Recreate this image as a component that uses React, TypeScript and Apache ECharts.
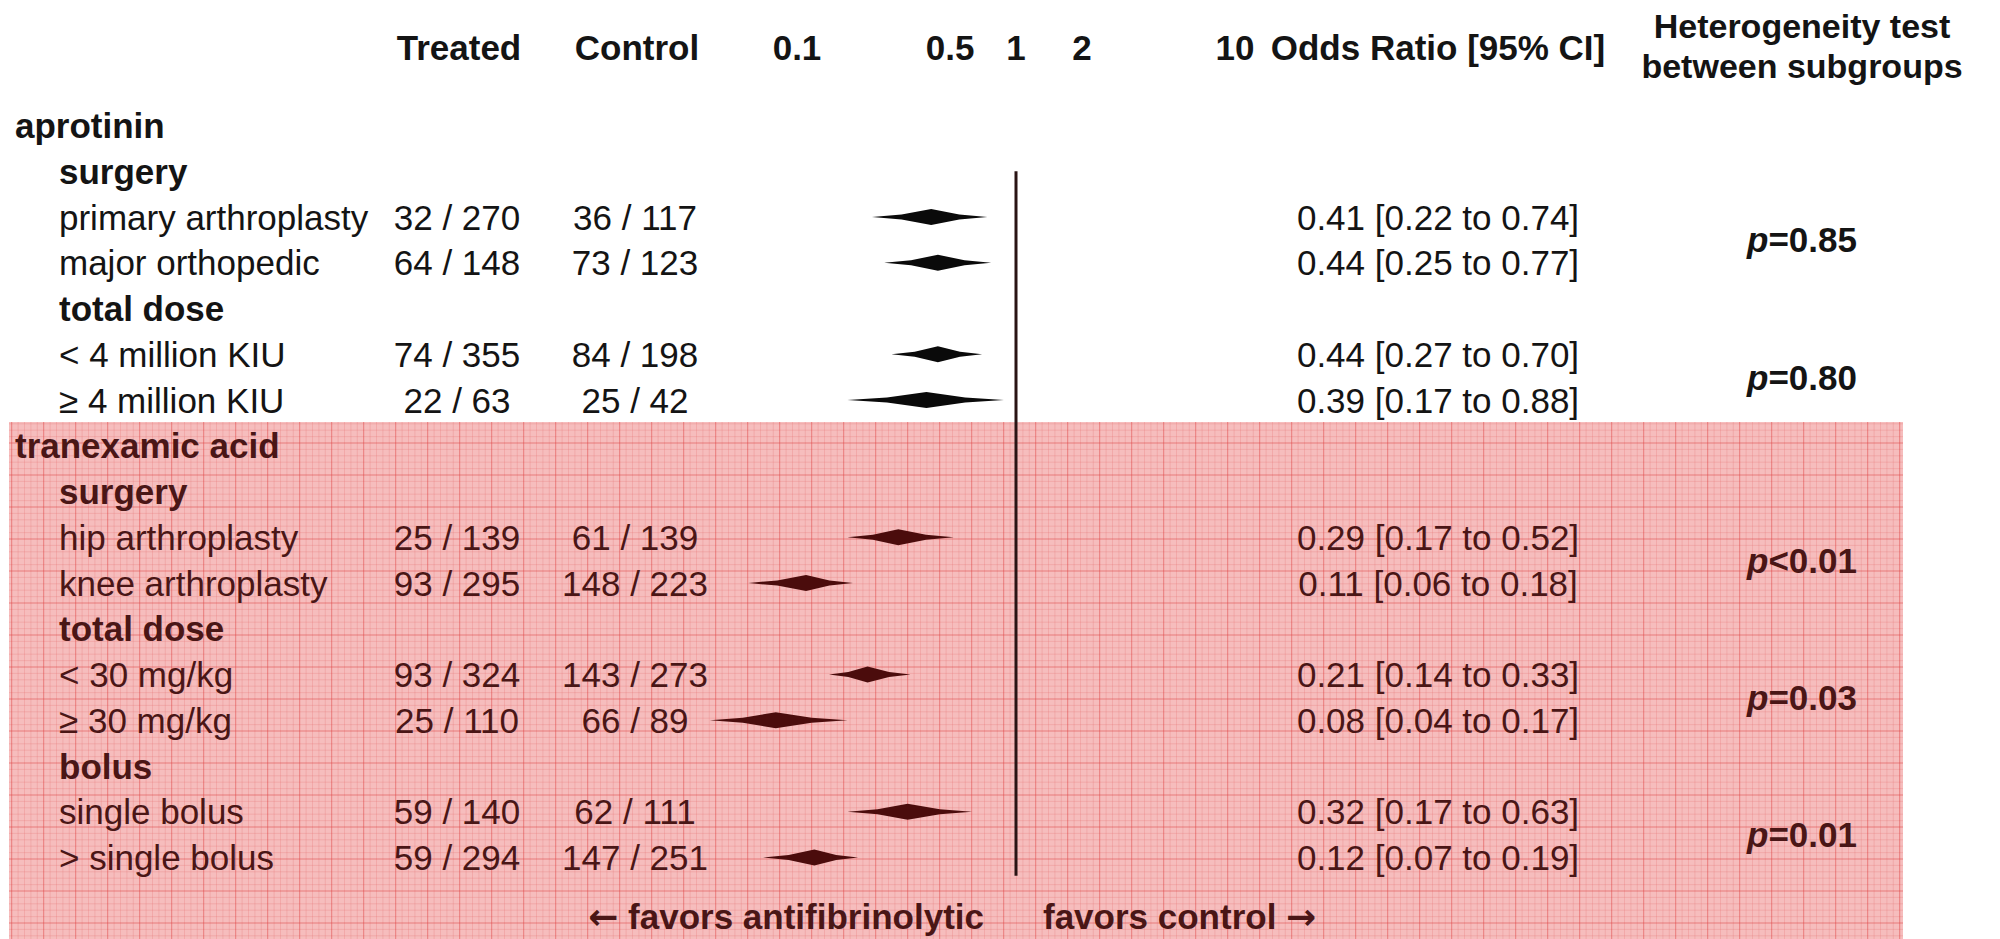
import React, { useEffect, useRef } from "react";
import * as echarts from "echarts";

// ---------------- data ----------------
const rowLabels = [
  "aprotinin",
  "surgery",
  "primary arthroplasty",
  "major orthopedic",
  "total dose",
  "< 4 million KIU",
  "≥ 4 million KIU",
  "tranexamic acid",
  "surgery",
  "hip arthroplasty",
  "knee arthroplasty",
  "total dose",
  "< 30 mg/kg",
  "≥ 30 mg/kg",
  "bolus",
  "single bolus",
  "> single bolus",
];
const rowKinds = [
  "group", "sub", "item", "item", "sub", "item", "item",
  "group", "sub", "item", "item", "sub", "item", "item", "sub", "item", "item",
];
const treatedEvents = [
  "", "", "32 / 270", "64 / 148", "", "74 / 355", "22 / 63",
  "", "", "25 / 139", "93 / 295", "", "93 / 324", "25 / 110", "", "59 / 140", "59 / 294",
];
const controlEvents = [
  "", "", "36 / 117", "73 / 123", "", "84 / 198", "25 / 42",
  "", "", "61 / 139", "148 / 223", "", "143 / 273", "66 / 89", "", "62 / 111", "147 / 251",
];
const oddsRatios = [
  null, null, 0.41, 0.44, null, 0.44, 0.39,
  null, null, 0.29, 0.11, null, 0.21, 0.08, null, 0.32, 0.12,
];
const ciLower = [
  null, null, 0.22, 0.25, null, 0.27, 0.17,
  null, null, 0.17, 0.06, null, 0.14, 0.04, null, 0.17, 0.07,
];
const ciUpper = [
  null, null, 0.74, 0.77, null, 0.70, 0.88,
  null, null, 0.52, 0.18, null, 0.33, 0.17, null, 0.63, 0.19,
];
const heterogeneityP = ["=0.85", "=0.80", "<0.01", "=0.03", "=0.01"];
const heterogeneityFirstRow = [2, 5, 9, 12, 15];
const axisTickValues = [0.1, 0.5, 1, 2, 10];
const axisTickLabels = ["0.1", "0.5", "1", "2", "10"];
const columnHeaders = ["Treated", "Control", "Odds Ratio [95% CI]"];
const heterogeneityHeader = ["Heterogeneity test", "between subgroups"];
const favorsLabels = ["favors antifibrinolytic", "favors control"];
const favorsArrows = ["←", "→"];
const nullEffect = 1;
const refLineRows = [1, 16.4];

// ---------------- layout / style ----------------
const FONT = "'Liberation Sans', Arial, Helvetica, sans-serif";
const ARROW_FONT = "'DejaVu Sans', sans-serif";
const FS = 35;
const textColors = ["#141414", "#4a1616"];
const markColors = ["#0a0a0a", "#4b0c0c"];
const GRID_LEFT = 578;
const GRID_WIDTH = 876;
const GRID_RIGHT_X = GRID_LEFT + GRID_WIDTH;
const ROW_H = 45.75;
const GRID_TOP = 102.625;
const GRID_HEIGHT = ROW_H * rowLabels.length;

let sec = -1;
const rowSection = rowKinds.map((k) => (k === "group" ? ++sec : sec));

const rich: any = {};
[0, 1].forEach((s) => {
  rich["n" + s] = { fontSize: FS, fontFamily: FONT, color: textColors[s], fontWeight: "normal" };
  rich["b" + s] = { fontSize: FS, fontFamily: FONT, color: textColors[s], fontWeight: "bold" };
  rich["i" + s] = { fontSize: FS, fontFamily: FONT, color: textColors[s], fontWeight: "bold", fontStyle: "italic" };
});

const orText = (i: number) =>
  oddsRatios[i] == null
    ? ""
    : `${(oddsRatios[i] as number).toFixed(2)} [${(ciLower[i] as number).toFixed(2)} to ${(ciUpper[i] as number).toFixed(2)}]`;

function textAxis(position: string, x: number, align: string, cell: (i: number) => { t: string; bold: boolean }) {
  const offset = position === "left" ? GRID_LEFT - x : x - GRID_RIGHT_X;
  return {
    type: "category",
    gridIndex: 0,
    data: rowLabels,
    inverse: true,
    position,
    offset,
    axisLine: { show: false },
    axisTick: { show: false },
    splitLine: { show: false },
    axisLabel: {
      interval: 0,
      margin: 0,
      align,
      rich,
      formatter: (_v: string, i: number) => {
        const c = cell(i);
        if (!c.t) return "";
        return `{${c.bold ? "b" : "n"}${rowSection[i]}|${c.t}}`;
      },
    },
  };
}

function buildOption() {
  const pinkX = 9, pinkY = 422, pinkW = 1894, pinkH = 939 - 422;
  const step = 6.4;
  const graphics: any[] = [
    { type: "rect", z: -30, silent: true, shape: { x: pinkX, y: pinkY, width: pinkW, height: pinkH }, style: { fill: "#f6bdbd" } },
  ];
  for (let i = 0; ; i++) {
    const x = pinkX + 2.7 + i * step;
    if (x > pinkX + pinkW) break;
    const major = i % 5 === 0;
    graphics.push({
      type: "line", z: major ? -28 : -29, silent: true,
      shape: { x1: x, y1: pinkY, x2: x, y2: pinkY + pinkH },
      style: { stroke: major ? "rgba(222,60,60,0.5)" : "rgba(230,110,110,0.25)", lineWidth: 1 },
    });
  }
  for (let i = 0; ; i++) {
    const y = pinkY + 1.8 + i * step;
    if (y > pinkY + pinkH) break;
    const major = (i - 3) % 5 === 0;
    graphics.push({
      type: "line", z: major ? -28 : -29, silent: true,
      shape: { x1: pinkX, y1: y, x2: pinkX + pinkW, y2: y },
      style: { stroke: major ? "rgba(222,60,60,0.5)" : "rgba(230,110,110,0.25)", lineWidth: 1 },
    });
  }
  const headerX = [459, 637, 1438];
  columnHeaders.forEach((h, k) => {
    graphics.push({
      type: "text", x: headerX[k], y: 47, z: 5,
      style: { text: h, font: `bold ${FS}px ${FONT}`, fill: textColors[0], textAlign: "center", textVerticalAlign: "middle" },
    });
  });
  heterogeneityHeader.forEach((h, k) => {
    graphics.push({
      type: "text", x: 1802, y: 26 + k * 40, z: 5,
      style: { text: h, font: `bold 34px ${FONT}`, fill: textColors[0], textAlign: "center", textVerticalAlign: "middle" },
    });
  });
  const favRich = {
    a: { fontFamily: ARROW_FONT, fontWeight: "bold", fontSize: 36, fill: textColors[1], color: textColors[1] },
    t: { fontFamily: FONT, fontWeight: "bold", fontSize: FS, fill: textColors[1], color: textColors[1] },
  };
  graphics.push({
    type: "text", x: 984, y: 916, z: 5,
    style: {
      text: `{a|${favorsArrows[0]}} {t|${favorsLabels[0]}}`,
      rich: favRich,
      font: `bold ${FS}px ${FONT}`,
      fill: textColors[1],
      textAlign: "right",
      textVerticalAlign: "middle",
    },
  });
  graphics.push({
    type: "text", x: 1043, y: 916, z: 5,
    style: {
      text: `{t|${favorsLabels[1]}} {a|${favorsArrows[1]}}`,
      rich: favRich,
      font: `bold ${FS}px ${FONT}`,
      fill: textColors[1],
      textAlign: "left",
      textVerticalAlign: "middle",
    },
  });

  const diamondData = oddsRatios
    .map((or, i) => (or == null ? null : [ciLower[i], or, ciUpper[i], i]))
    .filter((d) => d != null);

  const pMids = heterogeneityFirstRow.map((r) => r + 0.5);

  return {
    animation: false,
    backgroundColor: "#ffffff",
    graphic: { elements: graphics },
    grid: [
      {
        left: GRID_LEFT,
        width: GRID_WIDTH,
        top: GRID_TOP,
        height: GRID_HEIGHT,
        containLabel: false,
        outerBoundsMode: "none",
      },
    ],
    xAxis: [
      {
        type: "log",
        logBase: 10,
        min: 0.01,
        max: 100,
        gridIndex: 0,
        position: "top",
        offset: GRID_TOP - 47,
        axisLine: { show: false },
        axisTick: { show: false },
        splitLine: { show: false },
        minorTick: { show: false },
        axisLabel: {
          customValues: axisTickValues,
          margin: 0,
          verticalAlign: "middle",
          fontSize: FS,
          fontFamily: FONT,
          fontWeight: "bold",
          color: textColors[0],
          formatter: (v: number) => {
            let best = 0;
            axisTickValues.forEach((t, k) => {
              if (Math.abs(Math.log10(t) - Math.log10(v)) < Math.abs(Math.log10(axisTickValues[best]) - Math.log10(v))) best = k;
            });
            return axisTickLabels[best];
          },
        },
      },
    ],
    yAxis: [
      {
        type: "value",
        gridIndex: 0,
        inverse: true,
        min: -0.5,
        max: rowLabels.length - 0.5,
        position: "right",
        offset: 1802 - GRID_RIGHT_X,
        axisLine: { show: false },
        axisTick: { show: false },
        splitLine: { show: false },
        axisLabel: {
          customValues: pMids,
          margin: 0,
          align: "center",
          rich,
          formatter: (v: number) => {
            const k = pMids.findIndex((m) => Math.abs(m - v) < 0.01);
            if (k < 0) return "";
            const s = rowSection[heterogeneityFirstRow[k]];
            return `{i${s}|p}{b${s}|${heterogeneityP[k]}}`;
          },
        },
      },
      textAxis("left", 15, "left", (i) => ({ t: rowKinds[i] === "group" ? rowLabels[i] : "", bold: true })),
      textAxis("left", 59, "left", (i) => ({ t: rowKinds[i] === "group" ? "" : rowLabels[i], bold: rowKinds[i] === "sub" })),
      textAxis("left", 457, "center", (i) => ({ t: treatedEvents[i], bold: false })),
      textAxis("left", 635, "center", (i) => ({ t: controlEvents[i], bold: false })),
      textAxis("right", 1438, "center", (i) => ({ t: orText(i), bold: false })),
    ],
    series: [
      {
        type: "line",
        xAxisIndex: 0,
        yAxisIndex: 0,
        data: refLineRows.map((r) => [nullEffect, r]),
        symbol: "none",
        lineStyle: { color: "#2a1414", width: 3 },
        z: 3,
        silent: true,
      },
      {
        type: "custom",
        xAxisIndex: 0,
        yAxisIndex: 0,
        data: diamondData,
        encode: { x: [0, 1, 2], y: 3 },
        clip: false,
        z: 4,
        silent: true,
        renderItem: (_params: any, api: any) => {
          const row = api.value(3);
          const lo = api.coord([api.value(0), row]);
          const mid = api.coord([api.value(1), row]);
          const hi = api.coord([api.value(2), row]);
          const h = 8;
          const y = mid[1];
          const q1 = lo[0] + (mid[0] - lo[0]) * 0.5;
          const q2 = mid[0] + (hi[0] - mid[0]) * 0.5;
          return {
            type: "polygon",
            shape: {
              points: [
                [lo[0], y],
                [q1, y - h * 0.32],
                [mid[0], y - h],
                [q2, y - h * 0.32],
                [hi[0], y],
                [q2, y + h * 0.32],
                [mid[0], y + h],
                [q1, y + h * 0.32],
              ],
            },
            style: { fill: markColors[rowSection[row]] },
          };
        },
      },
    ],
  };
}

export default function App() {
  const ref = useRef<HTMLDivElement>(null);
  useEffect(() => {
    if (!ref.current) return;
    const chart = echarts.init(ref.current, null, { renderer: "svg" });
    chart.setOption(buildOption() as any);
    return () => chart.dispose();
  }, []);
  return (
    <div
      ref={ref}
      style={{ position: "absolute", left: 0, top: 0, width: 2000, height: 939, background: "#ffffff" }}
    />
  );
}
